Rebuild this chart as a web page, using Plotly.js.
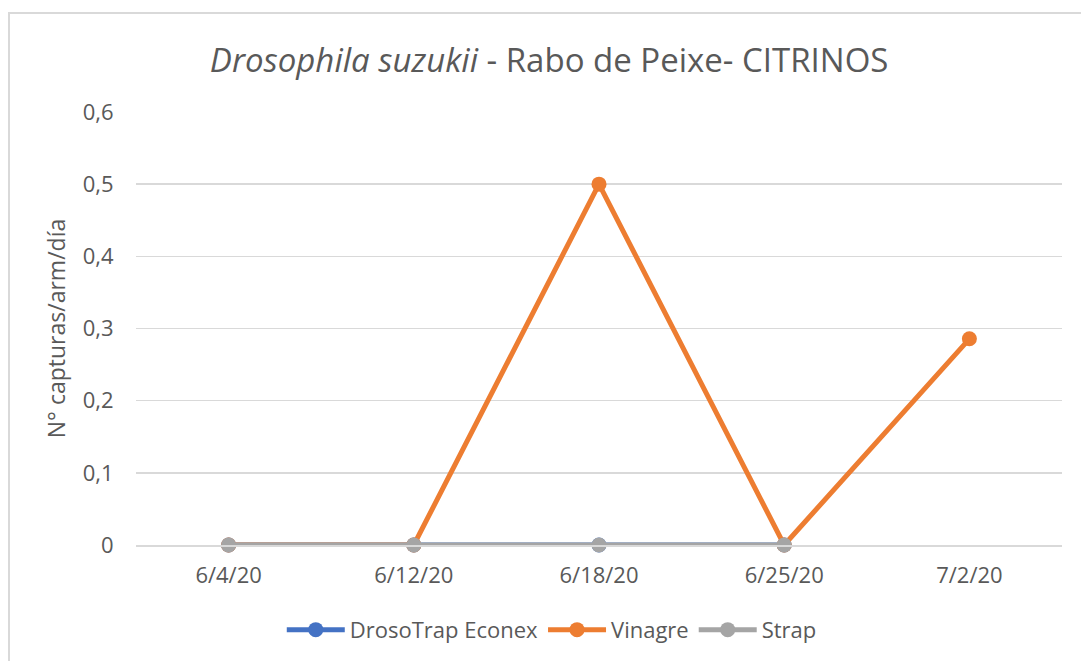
<!DOCTYPE html>
<html>
<head>
<meta charset="utf-8">
<script src="https://cdn.plot.ly/plotly-3.0.1.min.js"></script>
<style>
html,body{margin:0;padding:0;background:#fff;overflow:hidden;}
#wrap{position:relative;width:1081px;height:661px;}
#chart{position:absolute;left:0;top:0;width:1081px;height:661px;}
#frame{position:absolute;left:8px;top:12px;width:1120px;height:720px;border:2px solid #d9d9d9;pointer-events:none;box-sizing:border-box;}
</style>
</head>
<body>
<div id="wrap"><div id="chart"></div><div id="frame"></div></div>
<script>
const categories = ["6/4/20", "6/12/20", "6/18/20", "6/25/20", "7/2/20"];
const drosoTrap = [0, 0, 0, 0];
const vinagre = [0, 0, 0.5, 0, 0.2857];
const strap = [0, 0, 0, 0];
const seriesNames = ["DrosoTrap Econex", "Vinagre", "Strap"];
const titleText = "<i>Drosophila suzukii</i> - Rabo de Peixe- CITRINOS";
const yTitle = "N° capturas/arm/día";

const FONT = "Open Sans, sans-serif";
const TXT = "#595959";
function series(name, vals, color) {
  return {
    type: "scatter", mode: "lines+markers", name: name,
    x: categories.slice(0, vals.length), y: vals,
    line: {color: color, width: 5},
    marker: {color: color, size: 15},
    cliponaxis: false
  };
}
const data = [
  series(seriesNames[0], drosoTrap, "#4472C4"),
  series(seriesNames[1], vinagre, "#ED7D31"),
  series(seriesNames[2], strap, "#A5A5A5")
];
const layout = {
  width: 1081, height: 661, autosize: false,
  paper_bgcolor: "rgba(0,0,0,0)", plot_bgcolor: "rgba(0,0,0,0)",
  margin: {l: 136, r: 19, t: 112, b: 116, autoexpand: false},
  separators: ",.",
  font: {family: FONT, color: TXT, size: 22},
  title: {text: titleText, font: {family: FONT, size: 33, color: TXT},
          xref: "container", x: 0.508, xanchor: "center",
          yref: "container", y: 0.909, yanchor: "middle"},
  xaxis: {type: "category", categoryarray: categories, range: [-0.5, 4.5],
          showgrid: false, showline: true, linecolor: "#d9d9d9", linewidth: 1.5,
          zeroline: false, ticks: "outside", ticklen: 10, tickcolor: "rgba(0,0,0,0)",
          tickangle: 0, automargin: false,
          tickfont: {size: 22, color: TXT}, fixedrange: true},
  yaxis: {range: [0, 0.6], dtick: 0.1, tick0: 0, automargin: false,
          showgrid: true, gridcolor: "#d9d9d9", gridwidth: 1.5,
          zeroline: false, showline: false,
          ticks: "outside", ticklen: 17, tickcolor: "rgba(0,0,0,0)",
          tickfont: {size: 22, color: TXT},
          title: {text: yTitle, font: {size: 23, color: TXT}, standoff: 10},
          fixedrange: true},
  showlegend: true,
  legend: {orientation: "h", x: 0.449, xanchor: "center",
           y: -0.196, yanchor: "middle", font: {size: 22, color: TXT},
           itemwidth: 58, traceorder: "normal", bgcolor: "rgba(0,0,0,0)"}
};
Plotly.newPlot("chart", data, layout, {displayModeBar: false, staticPlot: true});
</script>
</body>
</html>
